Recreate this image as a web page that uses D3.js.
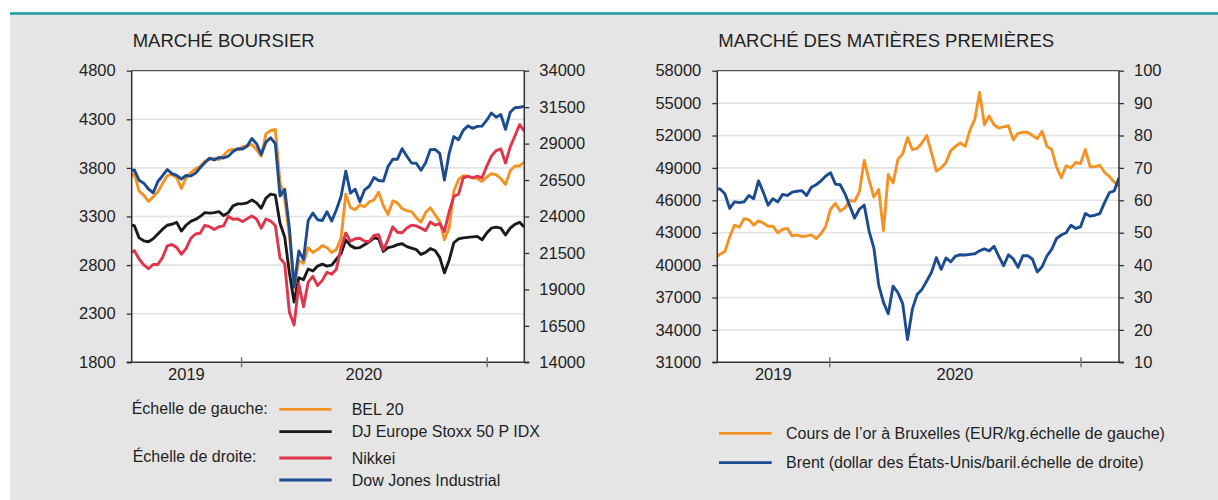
<!DOCTYPE html>
<html>
<head>
<meta charset="utf-8">
<script src="https://cdn.jsdelivr.net/npm/d3@7"></script>
<style>
  body { margin: 0; background: #fff; }
  text { font-family: "Liberation Sans", Arial, sans-serif; fill: #1f1f1f; }
</style>
</head>
<body>
<svg id="chart" width="1218" height="500"></svg>
<script>
// weekly closes (fridays), first point 2019-07-19
const firstWeek = new Date(2019, 6, 19)
const dateRange = [new Date(2019, 6, 22), new Date(2021, 1, 26)]
const yearTicks = [new Date(2020, 0, 1), new Date(2021, 0, 1)]
const yearLabels = ['2019', '2020']

const bel20 = [3700, 3740, 3560, 3520, 3455, 3500, 3555, 3640, 3720, 3730,
  3700, 3590, 3700, 3750, 3790, 3815, 3870, 3885, 3900, 3885,
  3930, 3980, 3990, 3985, 4015, 4030, 4040, 3990, 3920, 4150,
  4185, 4195, 3650, 3480, 3100, 2560, 2850, 2820, 2980, 2930,
  2960, 3000, 2980, 2930, 2960, 3080, 3530, 3390, 3370, 3420,
  3400, 3450, 3470, 3550, 3410, 3320, 3460, 3440, 3380, 3360,
  3350, 3290, 3240, 3340, 3390, 3320, 3250, 3060, 3180, 3560,
  3680, 3720, 3715, 3700, 3690, 3660, 3705, 3740, 3730, 3690,
  3630, 3770, 3820, 3820, 3860]

const stoxx50 = [3215, 3205, 3080, 3050, 3040, 3070, 3120, 3170, 3210, 3220,
  3240, 3150, 3210, 3250, 3270, 3300, 3340, 3335, 3340, 3350,
  3310, 3340, 3410, 3430, 3430, 3440, 3470, 3440, 3385, 3490,
  3530, 3520, 3230, 3090, 2720, 2420, 2670, 2650, 2760, 2740,
  2790, 2810, 2790, 2800, 2860, 2920, 3060, 3000, 2975, 2980,
  3010, 3040, 3080, 3070, 2940, 2980, 2990, 3010, 3020, 2990,
  2975, 2960, 2910, 2930, 2970, 2950, 2880, 2720, 2850, 3030,
  3070, 3080, 3085, 3090, 3095, 3060, 3130, 3180, 3190, 3180,
  3110, 3180, 3220, 3240, 3190]

const nikkei = [21467, 21658, 21087, 20685, 20419, 20711, 20704, 21199, 21988, 22079,
  21879, 21410, 21799, 22492, 22800, 22851, 23392, 23303, 23113, 23294,
  23354, 24023, 23816, 23837, 23657, 23850, 24041, 23827, 23205, 23827,
  23688, 23386, 21142, 20749, 17431, 16552, 19389, 17820, 19498, 19897,
  19262, 19619, 20179, 20037, 20388, 21877, 22864, 22305, 22478, 22512,
  22306, 22290, 22696, 22751, 21710, 22418, 23289, 22920, 22882, 23205,
  23406, 23360, 23204, 23030, 23619, 23410, 23516, 22977, 24325, 25385,
  25527, 26644, 26751, 26652, 26763, 26656, 27444, 28139, 28519, 28631,
  27663, 28779, 29520, 30300, 29850]

const dowJones = [27154, 27192, 26485, 26287, 25886, 25629, 26403, 26797, 27220, 26935,
  26820, 26573, 26816, 26770, 26958, 27347, 27681, 28005, 27876, 28051,
  28015, 28135, 28455, 28645, 28634, 28823, 29348, 28990, 28256, 29102,
  29398, 28992, 25409, 25865, 23185, 19174, 21637, 21053, 23719, 24242,
  23775, 23724, 24331, 23685, 24465, 25383, 27111, 25606, 25871, 25016,
  25827, 26075, 26672, 26470, 26428, 27433, 27931, 27930, 28654, 28133,
  27666, 27657, 27174, 27683, 28587, 28606, 28336, 26502, 28323, 29480,
  29263, 29910, 30218, 30046, 30179, 30200, 30606, 31098, 30814, 30997,
  29983, 31148, 31458, 31494, 31550]

const gold = [40700, 41000, 41250, 42600, 43700, 43500, 44300, 44200, 43700, 44100,
  43900, 43600, 43600, 43000, 43300, 43400, 42700, 42800, 42650, 42700,
  42800, 42450, 42900, 43600, 45200, 45700, 45000, 45300, 46000, 45900,
  46800, 49700, 47900, 46300, 47000, 43200, 48400, 47600, 49800, 50300,
  51800, 50700, 50800, 51300, 52000, 50400, 48700, 49000, 49500, 50600,
  51000, 51300, 51000, 52500, 53500, 56000, 53000, 53800, 53000, 52700,
  52800, 52900, 51600, 52200, 52300, 52300, 52000, 51700, 52400, 51000,
  50700, 49100, 48100, 49200, 49000, 49500, 49400, 50700, 49100, 49100,
  49250, 48600, 48200, 47700, 47300]

const brent = [63.5, 63.5, 62.0, 57.5, 59.5, 59.3, 59.5, 61.5, 60.5, 66.0,
  62.5, 58.5, 60.5, 59.5, 61.8, 61.5, 62.5, 62.8, 63.0, 61.5,
  64.0, 64.8, 66.0, 67.5, 68.5, 65.0, 64.8, 62.0, 58.2, 54.5,
  57.3, 58.5, 50.5, 45.3, 33.9, 28.5, 25.0, 33.5, 31.5, 28.1,
  17.0, 26.4, 30.9, 32.5, 35.1, 37.8, 42.3, 38.7, 42.2, 41.0,
  42.8, 43.2, 43.1, 43.3, 43.5, 44.4, 45.0, 44.4, 45.8, 42.7,
  39.8, 43.2, 41.9, 39.3, 42.9, 42.9, 41.8, 37.9, 39.5, 42.8,
  44.9, 48.2, 49.3, 50.0, 52.3, 51.3, 51.8, 55.9, 55.1, 55.4,
  55.9, 59.3, 62.4, 62.9, 67.0]

const stockLeftTicks = [1800, 2300, 2800, 3300, 3800, 4300, 4800]
const stockRightTicks = [14000, 16500, 19000, 21500, 24000, 26500, 29000, 31500, 34000]
const goldTicks = [31000, 34000, 37000, 40000, 43000, 46000, 49000, 52000, 55000, 58000]
const brentTicks = [10, 20, 30, 40, 50, 60, 70, 80, 90, 100]

const weeks = bel20.map((d, i) => d3.timeDay.offset(firstWeek, 7 * i))

const ORANGE = '#f39325'
const BLACK = '#1a1a1a'
const RED = '#e0344c'
const BLUE = '#1d4b8f'

const svg = d3.select('#chart')

// page background
svg.append('rect').attr('x', 10).attr('y', 14).attr('width', 1208).attr('height', 486).attr('fill', '#e5e5e5')
svg.append('line').attr('x1', 10).attr('x2', 1218).attr('y1', 13.5).attr('y2', 13.5)
  .attr('stroke', '#17999f').attr('stroke-width', 2.3)

/**
 * Draws one panel: white plot, grid, both y axes, year axis and the lines.
 *
 * @param {object} p The panel settings and its series
 */
function drawPanel (p) {
  const g = svg.append('g')
  const x = d3.scaleTime().domain(dateRange).range([p.x0, p.x1])
  const yL = d3.scaleLinear().domain(d3.extent(p.leftTicks)).range([p.y1, p.y0])
  const yR = d3.scaleLinear().domain(d3.extent(p.rightTicks)).range([p.y1, p.y0])

  g.append('text')
    .attr('x', p.x0 + 1)
    .attr('y', 47)
    .attr('font-size', 18.5)
    .text(p.title)

  g.append('rect')
    .attr('x', p.x0).attr('y', p.y0)
    .attr('width', p.x1 - p.x0).attr('height', p.y1 - p.y0)
    .attr('fill', 'white')

  // horizontal grid on the left scale
  g.selectAll('line.grid')
    .data(p.leftTicks.slice(1, -1))
    .join('line')
    .attr('class', 'grid')
    .attr('x1', p.x0).attr('x2', p.x1)
    .attr('y1', d => yL(d)).attr('y2', d => yL(d))
    .attr('stroke', '#e3e3e3')
    .attr('stroke-width', 1.6)

  const clipId = 'clip-' + p.id
  g.append('clipPath').attr('id', clipId)
    .append('rect')
    .attr('x', p.x0).attr('y', p.y0)
    .attr('width', p.x1 - p.x0).attr('height', p.y1 - p.y0)

  p.series.forEach(s => {
    const scale = s.axis === 'left' ? yL : yR
    const line = d3.line()
      .x((d, i) => x(weeks[i]))
      .y(d => scale(d))
    g.append('path')
      .datum(s.values)
      .attr('clip-path', `url(#${clipId})`)
      .attr('d', line)
      .attr('fill', 'none')
      .attr('stroke', s.color)
      .attr('stroke-width', 2.9)
      .attr('stroke-linejoin', 'round')
  })

  // frame
  g.append('line').attr('x1', p.x0).attr('x2', p.x1).attr('y1', p.y0).attr('y2', p.y0)
    .attr('stroke', '#555').attr('stroke-width', 1.3)
  g.append('line').attr('x1', p.x0).attr('x2', p.x0).attr('y1', p.y0).attr('y2', p.y1)
    .attr('stroke', '#333').attr('stroke-width', 1.5)
  g.append('line').attr('x1', p.x1).attr('x2', p.x1).attr('y1', p.y0).attr('y2', p.y1)
    .attr('stroke', '#333').attr('stroke-width', 1.5)
  g.append('line').attr('x1', p.x0 - 5).attr('x2', p.x1 + 5).attr('y1', p.y1).attr('y2', p.y1)
    .attr('stroke', '#333').attr('stroke-width', 1.5)

  const leftAxis = g.append('g')
    .attr('transform', `translate(${p.x0},0)`)
    .call(d3.axisLeft(yL).tickValues(p.leftTicks).tickSize(5).tickPadding(11).tickFormat(d3.format('d')))
  const rightAxis = g.append('g')
    .attr('transform', `translate(${p.x1},0)`)
    .call(d3.axisRight(yR).tickValues(p.rightTicks).tickSize(5).tickPadding(10).tickFormat(d3.format('d')))

  ;[leftAxis, rightAxis].forEach(a => {
    a.select('.domain').remove()
    a.selectAll('line').attr('stroke', '#333').attr('stroke-width', 1.3)
    a.selectAll('text')
      .attr('font-size', 16.5)
      .attr('font-family', '"Liberation Sans", Arial, sans-serif')
      .attr('fill', '#1f1f1f')
  })

  // year separators crossing the bottom axis
  const xAxis = g.append('g')
    .attr('transform', `translate(0,${p.y1})`)
    .call(d3.axisBottom(x).tickValues(yearTicks).tickSize(5).tickFormat(''))
  xAxis.select('.domain').remove()
  xAxis.selectAll('line').attr('y1', -5).attr('y2', 5).attr('stroke', '#777').attr('stroke-width', 1.5)

  const bounds = [dateRange[0], ...yearTicks]
  g.selectAll('text.year')
    .data(yearLabels)
    .join('text')
    .attr('class', 'year')
    .attr('x', (d, i) => (x(bounds[i]) + x(bounds[i + 1])) / 2)
    .attr('y', p.y1 + 17.7)
    .attr('text-anchor', 'middle')
    .attr('font-size', 16.5)
    .text(d => d)
}

drawPanel({
  id: 'stock',
  title: 'MARCHÉ BOURSIER',
  x0: 131.7, x1: 524.3, y0: 70.7, y1: 362.3,
  leftTicks: stockLeftTicks,
  rightTicks: stockRightTicks,
  series: [
    { values: bel20, axis: 'left', color: ORANGE },
    { values: stoxx50, axis: 'left', color: BLACK },
    { values: nikkei, axis: 'right', color: RED },
    { values: dowJones, axis: 'right', color: BLUE }
  ]
})

drawPanel({
  id: 'commo',
  title: 'MARCHÉ DES MATIÈRES PREMIÈRES',
  x0: 717.3, x1: 1119, y0: 70.7, y1: 362.3,
  leftTicks: goldTicks,
  rightTicks: brentTicks,
  series: [
    { values: gold, axis: 'left', color: ORANGE },
    { values: brent, axis: 'right', color: BLUE }
  ]
})

// legends
const stockLegend = [
  { label: 'BEL 20', color: ORANGE, y: 409.3 },
  { label: 'DJ Europe Stoxx 50 P IDX', color: BLACK, y: 431.7 },
  { label: 'Nikkei', color: RED, y: 458 },
  { label: 'Dow Jones Industrial', color: BLUE, y: 480 }
]
const commoLegend = [
  { label: 'Cours de l’or à Bruxelles (EUR/kg.échelle de gauche)', color: ORANGE, y: 433.3 },
  { label: 'Brent (dollar des États-Unis/baril.échelle de droite)', color: BLUE, y: 462.7 }
]

function drawLegend (items, lx0, lx1, tx) {
  const g = svg.append('g')
  g.selectAll('line')
    .data(items)
    .join('line')
    .attr('x1', lx0).attr('x2', lx1)
    .attr('y1', d => d.y).attr('y2', d => d.y)
    .attr('stroke', d => d.color)
    .attr('stroke-width', 2.8)
  g.selectAll('text')
    .data(items)
    .join('text')
    .attr('x', tx)
    .attr('y', d => d.y + 5.6)
    .attr('font-size', 16)
    .text(d => d.label)
}

drawLegend(stockLegend, 279.3, 331.7, 351.7)
drawLegend(commoLegend, 719, 771.7, 786)

svg.append('text').attr('x', 131.7).attr('y', 413.5).attr('font-size', 16).text('Échelle de gauche:')
svg.append('text').attr('x', 132.7).attr('y', 461.5).attr('font-size', 16).text('Échelle de droite:')
</script>
</body>
</html>
